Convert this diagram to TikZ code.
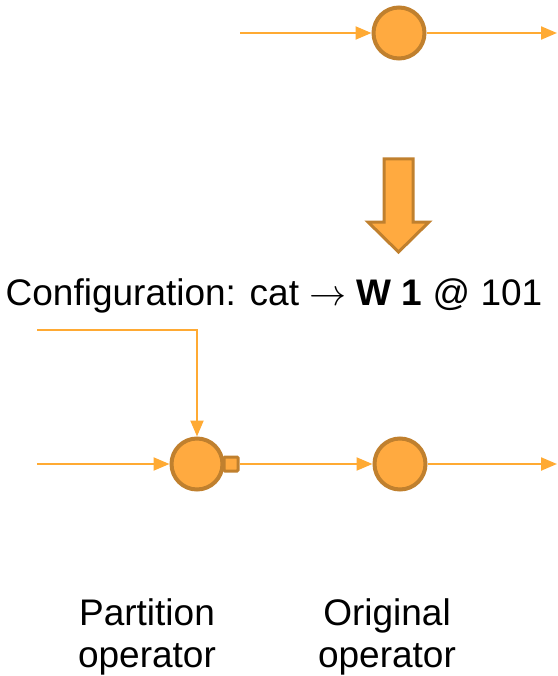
\RequirePackage{fix-cm}
\documentclass[tikz,border=0pt]{standalone}
\usepackage{fontspec}
\setmainfont{Liberation Sans}
\usetikzlibrary{arrows.meta}
\definecolor{opfill}{HTML}{FFAA40}
\definecolor{opline}{HTML}{C0802E}
\definecolor{flow}{HTML}{FFAA33}
\begin{document}
\begin{tikzpicture}[x=1pt,y=-1pt,
	op/.style={circle, minimum size=51pt, inner sep=0pt,
		line width=4pt, draw=opline, fill=opfill},
	port/.style={rectangle, minimum size=14pt, inner sep=0pt,
		line width=3pt, draw=opline, fill=opfill, rounded corners=1pt},
	flowline/.style={flow, line width=2.2pt, -{Triangle[length=16pt,width=13pt]}},
	label/.style={font=\fontsize{37}{42}\selectfont, align=center}]
	\useasboundingbox (0,0) rectangle (557,676);
	% before: one operator
	\coordinate (topin) at (240,33);
	\coordinate (topout) at (557,33);
	\node[op] (top) at (399,33) {};
	\draw[flowline] (topin) -- (top);
	\draw[flowline] (top) -- (topout);
	% rewrite arrow
	\draw[line width=3pt, draw=opline, fill=opfill, line join=miter]
		(384,159) -- (413,159) -- (413,222) -- (429,222) -- (398.5,252)
		-- (368,222) -- (384,222) -- cycle;
	\node[label, anchor=base] (config) at (274,305) {Configuration: cat $\rightarrow$ \textbf{W 1} @ 101};
	% after: partition operator in front
	\coordinate (cfgin) at (37,330);
	\coordinate (cfgbend) at (197,330);
	\coordinate (datain) at (37,464);
	\coordinate (botout) at (557,464);
	\node[op] (part) at (197,464) {};
	\node[port] (pport) at (231,464) {};
	\node[op] (orig) at (400,464) {};
	\draw[flowline] (cfgin) -- (cfgbend) -- (part);
	\draw[flowline] (datain) -- (part);
	\draw[flowline] (pport) -- (orig);
	\draw[flowline] (orig) -- (botout);
	\node[label, anchor=base] (partlbl) at (147,667) {Partition\\operator};
	\node[label, anchor=base] (origlbl) at (387,667) {Original\\operator};
\end{tikzpicture}
\end{document}
